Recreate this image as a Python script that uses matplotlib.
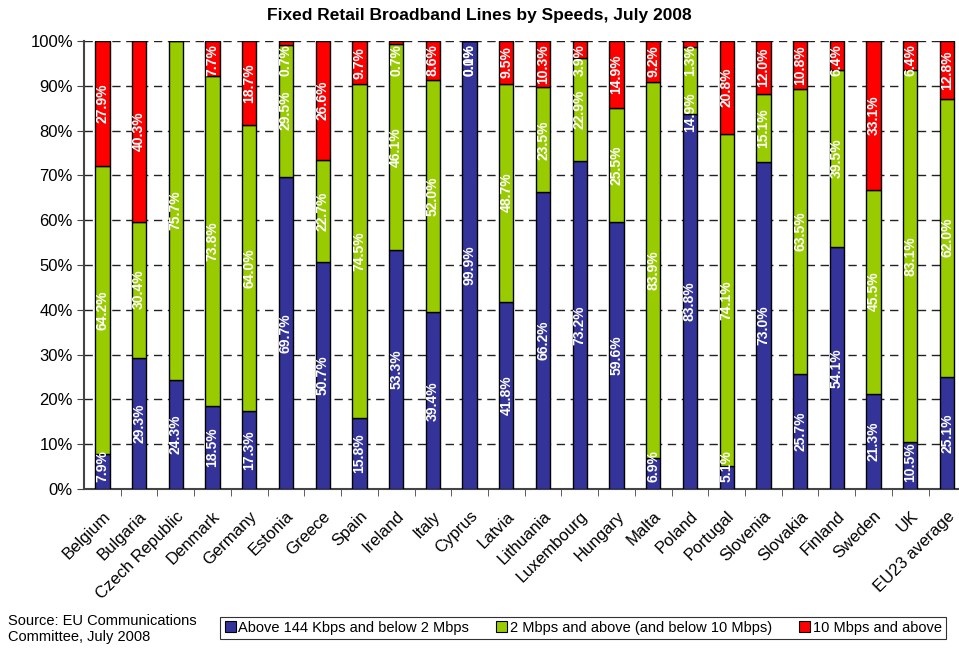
import numpy as np
import matplotlib.pyplot as plt
from matplotlib.patches import Patch

plt.rcParams['font.family'] = ['Liberation Sans', 'DejaVu Sans']

countries = ['Belgium', 'Bulgaria', 'Czech Republic', 'Denmark', 'Germany', 'Estonia',
             'Greece', 'Spain', 'Ireland', 'Italy', 'Cyprus', 'Latvia', 'Lithuania',
             'Luxembourg', 'Hungary', 'Malta', 'Poland', 'Portugal', 'Slovenia',
             'Slovakia', 'Finland', 'Sweden', 'UK', 'EU23 average']

# share of lines (%) per speed band; nan = no value reported
low = [7.9, 29.3, 24.3, 18.5, 17.3, 69.7, 50.7, 15.8, 53.3, 39.4, 99.9, 41.8, 66.2,
       73.2, 59.6, 6.9, 83.8, 5.1, 73.0, 25.7, 54.1, 21.3, 10.5, 25.1]
mid = [64.2, 30.4, 75.7, 73.8, 64.0, 29.5, 22.7, 74.5, 46.1, 52.0, 0.1, 48.7, 23.5,
       22.9, 25.5, 83.9, 14.9, 74.1, 15.1, 63.5, 39.5, 45.5, 83.1, 62.0]
high = [27.9, 40.3, np.nan, 7.7, 18.7, 0.7, 26.6, 9.7, 0.7, 8.6, 0.0, 9.5, 10.3,
        3.9, 14.9, 9.2, 1.3, 20.8, 12.0, 10.8, 6.4, 33.1, 6.4, 12.8]

series = [(low, '#333399', 'Above 144 Kbps and below 2 Mbps'),
          (mid, '#99CC00', '2 Mbps and above (and below 10 Mbps)'),
          (high, '#FF0000', '10 Mbps and above')]

fig = plt.figure(figsize=(9.59, 6.48), dpi=100)
ax = fig.add_axes([0.0876, 0.2454, 0.9114, 0.6913])

x = np.arange(len(countries))
bottom = np.zeros(len(countries))
label_pos = {}  # (series index, bar index) -> (y, half length, text)
for s, (vals, color, name) in enumerate(series):
    v = np.nan_to_num(np.array(vals, dtype=float))
    ax.bar(x, v, 0.39, bottom=bottom, color=color, edgecolor='black',
           linewidth=1.0, zorder=3)
    for i, val in enumerate(vals):
        if np.isnan(val):
            continue
        txt = f'{val:.1f}%'
        half = 0.85 * len(txt)
        y = bottom[i] + val / 2
        y = min(max(y, half + 1.8), 100 - half - 0.8)
        label_pos[(s, i)] = (y, half, txt, val)
    bottom += v

# push a middle label down when the clamped top label sits on it
for i in range(len(countries)):
    if (1, i) in label_pos and (2, i) in label_pos:
        ym, hm, tm, vm = label_pos[(1, i)]
        yt, ht, tt, vt = label_pos[(2, i)]
        if vm > 2 * hm and ym + hm > yt - ht - 1:
            label_pos[(1, i)] = (yt - ht - hm - 4, hm, tm, vm)

for (s, i), (y, half, txt, val) in label_pos.items():
    ax.text(x[i], y, txt, rotation=90, ha='center', va='center',
            color='white', fontsize=10, fontweight='bold', zorder=4)

ax.set_ylim(0, 100)
ax.set_xlim(-0.5, 23.3)
ax.set_yticks(np.arange(0, 101, 10))
ax.set_yticklabels([f'{t}%' for t in range(0, 101, 10)], fontsize=12)
ax.yaxis.grid(True, linestyle=(0, (6, 4)), color='#222222', linewidth=1.0, zorder=1)
ax.tick_params(axis='y', direction='out', length=5, color='#444444', pad=3)

ax.set_xticks(x)
ax.set_xticklabels(countries, rotation=45, ha='right', rotation_mode='anchor', fontsize=12)
ax.tick_params(axis='x', which='major', length=0, pad=14)
ax.set_xticks(x[:-1] + 0.5, minor=True)
ax.tick_params(axis='x', which='minor', direction='out', length=5, color='#444444')

for side in ['top', 'right']:
    ax.spines[side].set_visible(False)
ax.spines['left'].set_color('#444444')
ax.spines['left'].set_linewidth(1.5)
ax.spines['bottom'].set_color('#444444')
ax.spines['bottom'].set_linewidth(1.5)

fig.text(0.5, 0.976, 'Fixed Retail Broadband Lines by Speeds, July 2008',
         ha='center', va='center', fontsize=12.5, fontweight='bold')
fig.text(0.008, 0.0295, 'Source: EU Communications\nCommittee, July 2008',
         ha='left', va='center', fontsize=10.5, linespacing=1.25)

handles = [Patch(facecolor=c, edgecolor='black', linewidth=0.8) for _, c, _ in series]
leg = fig.legend(handles, [n for _, _, n in series], ncol=3, fontsize=10.5,
                 loc='center', bbox_to_anchor=(0.222, 0.009, 0.772, 0.044), mode='expand',
                 frameon=True, fancybox=False, handlelength=0.75, handleheight=0.75,
                 handletextpad=0.2, borderpad=0.3, columnspacing=1.0)
leg.get_frame().set_edgecolor('black')
leg.get_frame().set_linewidth(0.8)

fig.savefig('out.png', dpi=100)
